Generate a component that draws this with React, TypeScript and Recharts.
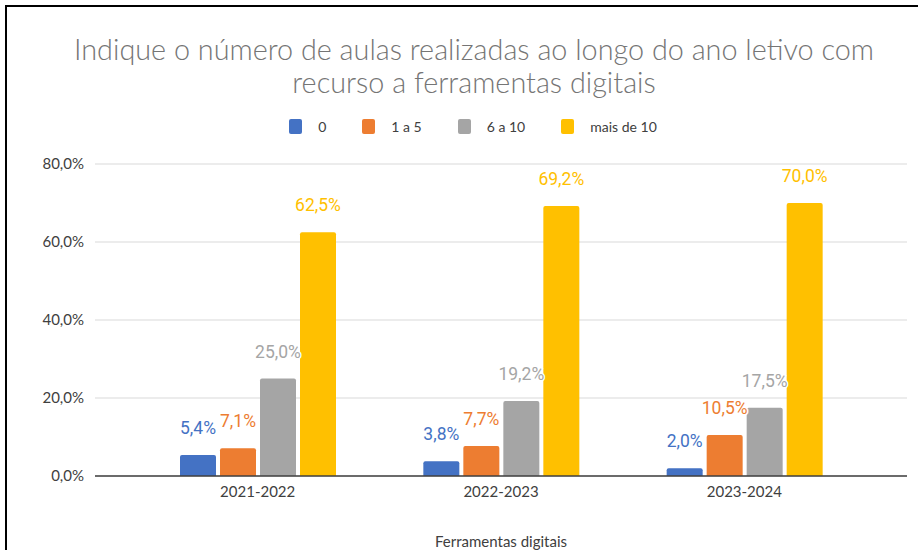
import { Bar, BarChart, CartesianGrid, Label, LabelList, XAxis, YAxis } from 'recharts';

const CATEGORIES = ['2021-2022', '2022-2023', '2023-2024'];
const SERIES_NAMES = ['0', '1 a 5', '6 a 10', 'mais de 10'];
const SERIES_COLORS = ['#4472C4', '#ED7D31', '#A5A5A5', '#FFC000'];

const VALUES_0 = [5.4, 3.8, 2.0];
const VALUES_1_5 = [7.1, 7.7, 10.5];
const VALUES_6_10 = [25.0, 19.2, 17.5];
const VALUES_MAIS_10 = [62.5, 69.2, 70.0];

const Y_TICKS = [0, 20, 40, 60, 80];

const SERIES_VALUES = [VALUES_0, VALUES_1_5, VALUES_6_10, VALUES_MAIS_10];

const chartData = CATEGORIES.map((category, i) => {
  const row: Record<string, string | number> = { category };
  SERIES_NAMES.forEach((name, s) => {
    row[name] = SERIES_VALUES[s][i];
  });
  return row;
});

const formatPct = (v: number) => `${v.toFixed(1).replace('.', ',')}%`;

const FONT = 'Lato, "Liberation Sans", sans-serif';

const makeLabel = (color: string) => (props: any) => {
  const { x, y, width, value } = props;
  return (
    <text
      x={x + width / 2}
      y={y - 21}
      textAnchor="middle"
      fill={color}
      stroke="#ffffff"
      strokeWidth={3}
      paintOrder="stroke"
      fontFamily="Roboto, sans-serif"
      fontSize={17.5}
    >
      {formatPct(Number(value))}
    </text>
  );
};

export default function App() {
  return (
    <div
      style={{
        position: 'fixed',
        top: 0,
        left: 0,
        width: 918,
        height: 550,
        overflow: 'hidden',
        background: '#ffffff',
      }}
    >
      <div
        style={{
          position: 'absolute',
          top: 5,
          left: 5,
          width: 940,
          height: 580,
          border: '2px solid #000000',
        }}
      />
      <div
        style={{
          position: 'absolute',
          top: 33,
          left: 0,
          width: 948,
          textAlign: 'center',
          fontFamily: FONT,
          fontWeight: 300,
          fontSize: 28.8,
          lineHeight: '33px',
          color: '#757575',
        }}
      >
        Indique o número de aulas realizadas ao longo do ano letivo com
        <br />
        recurso a ferramentas digitais
      </div>
      <div
        style={{
          position: 'absolute',
          top: 118,
          left: 0,
          width: 946,
          display: 'flex',
          justifyContent: 'center',
          gap: 36,
          fontFamily: FONT,
          fontSize: 14,
          color: '#404040',
        }}
      >
        {SERIES_NAMES.map((name, i) => (
          <div key={name} style={{ display: 'flex', alignItems: 'center', gap: 16 }}>
            <span
              style={{
                display: 'inline-block',
                width: 13,
                height: 15,
                borderRadius: 2,
                background: SERIES_COLORS[i],
              }}
            />
            <span>{name}</span>
          </div>
        ))}
      </div>
      <div style={{ position: 'absolute', top: 0, left: 0 }}>
        <BarChart
          width={918}
          height={550}
          data={chartData}
          margin={{ top: 164, right: 11, left: 0, bottom: 0 }}
          barSize={36}
          barGap={4}
        >
          <CartesianGrid vertical={false} stroke="#d9d9d9" />
          <XAxis
            dataKey="category"
            height={74}
            padding={{ left: 41, right: 41 }}
            tickLine={false}
            axisLine={{ stroke: '#404040', strokeWidth: 1.5 }}
            tick={{ fontSize: 15, fill: '#404040', fontFamily: FONT }}
            tickMargin={4}
          >
            <Label
              value="Ferramentas digitais"
              position="insideBottom"
              offset={3}
              style={{ fontSize: 15, fill: '#404040', fontFamily: FONT }}
            />
          </XAxis>
          <YAxis
            width={95}
            domain={[0, 80]}
            ticks={Y_TICKS}
            tickFormatter={formatPct}
            axisLine={false}
            tickLine={false}
            tickMargin={5}
            tick={{ fontSize: 15, fill: '#404040', fontFamily: FONT }}
          />
          {SERIES_NAMES.map((name, i) => (
            <Bar
              key={name}
              dataKey={name}
              fill={SERIES_COLORS[i]}
              radius={[2, 2, 0, 0]}
              isAnimationActive={false}
            >
              <LabelList dataKey={name} content={makeLabel(SERIES_COLORS[i])} />
            </Bar>
          ))}
        </BarChart>
      </div>
    </div>
  );
}
